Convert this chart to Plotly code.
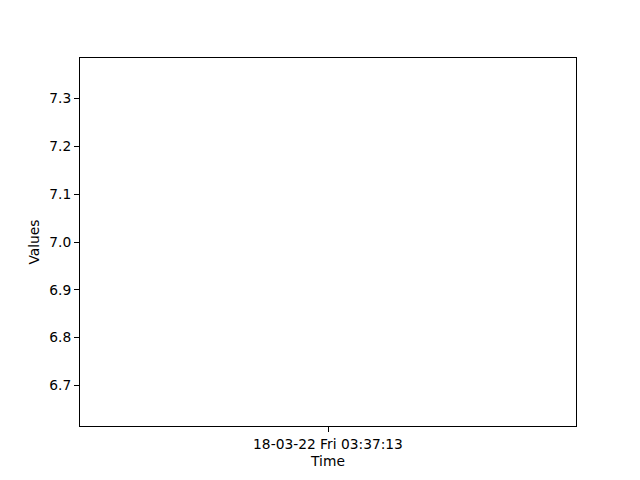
import plotly.graph_objects as go

times = ["18-03-22 Fri 03:37:13"]
values = [7.0]
y_ticks = [6.7, 6.8, 6.9, 7.0, 7.1, 7.2, 7.3]

fig = go.Figure()
fig.add_trace(go.Scatter(x=times, y=values, mode="lines",
                         line=dict(color="#1f77b4", width=1.5), showlegend=False,
                         hoverinfo="skip"))

font = dict(family="DejaVu Sans", size=13.8, color="black")
fig.update_layout(
    width=640, height=480,
    margin=dict(l=80, r=64, t=58, b=54),
    paper_bgcolor="white", plot_bgcolor="white",
    font=font,
    showlegend=False,
)
fig.update_xaxes(
    type="category", range=[-1, 1],
    showline=True, linecolor="black", linewidth=1, mirror=True,
    ticks="outside", ticklen=5, tickcolor="black", showgrid=False, zeroline=False,
    title=dict(text="Time", font=font, standoff=5),
)
fig.update_yaxes(
    range=[6.615, 7.385], tickvals=y_ticks, ticktext=[f"{v:.1f}" for v in y_ticks],
    showline=True, linecolor="black", linewidth=1, mirror=True,
    ticks="outside", ticklen=5, tickcolor="black", showgrid=False, zeroline=False,
    title=dict(text="Values", font=font, standoff=6),
)
fig.write_html("out.html")
